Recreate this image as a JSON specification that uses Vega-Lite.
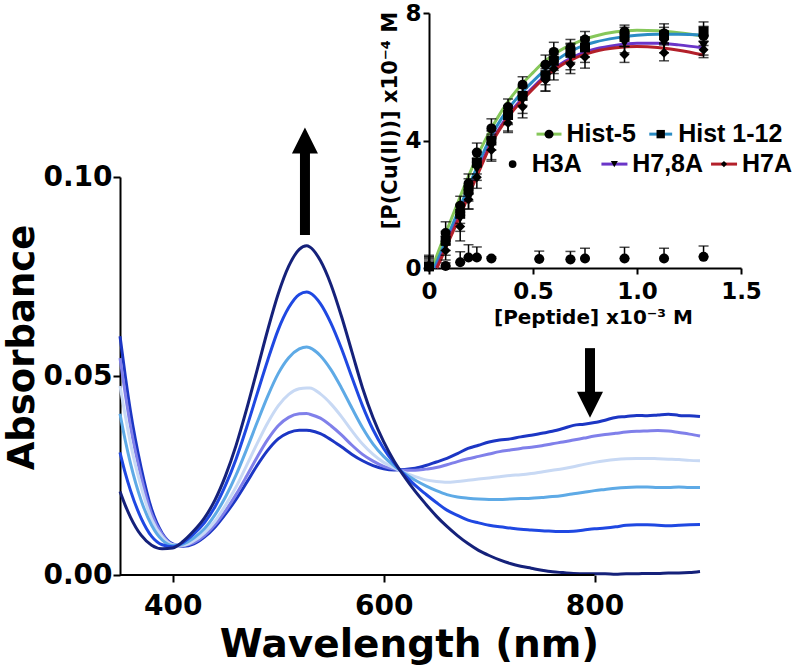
{
  "$schema": "https://vega.github.io/schema/vega-lite/v6.json",
  "width": 800,
  "height": 669,
  "autosize": {"type": "none"},
  "padding": 0,
  "background": "white",
  "config": {
    "view": {"stroke": null},
    "axis": {"grid": false, "labelFlush": false, "labelOverlap": false, "domainColor": "black", "tickColor": "black", "labelColor": "black", "titleColor": "black", "labelFont": "DejaVu Sans", "titleFont": "DejaVu Sans", "labelFontWeight": "bold", "titleFontWeight": "bold"}
  },
  "datasets": {
    "spectra": [
      {"s":"S1","w":350,"A":0.0600},{"s":"S1","w":355,"A":0.0500},{"s":"S1","w":360,"A":0.0410},{"s":"S1","w":370,"A":0.0270},{"s":"S1","w":380,"A":0.0165},{"s":"S1","w":390,"A":0.0105},{"s":"S1","w":400,"A":0.0078},{"s":"S1","w":410,"A":0.0072},{"s":"S1","w":420,"A":0.0078},{"s":"S1","w":430,"A":0.0095},{"s":"S1","w":440,"A":0.0120},{"s":"S1","w":450,"A":0.0153},{"s":"S1","w":460,"A":0.0190},{"s":"S1","w":470,"A":0.0232},{"s":"S1","w":480,"A":0.0275},{"s":"S1","w":490,"A":0.0313},{"s":"S1","w":500,"A":0.0342},{"s":"S1","w":510,"A":0.0358},{"s":"S1","w":520,"A":0.0364},{"s":"S1","w":527,"A":0.0364},{"s":"S1","w":530,"A":0.0363},{"s":"S1","w":540,"A":0.0355},{"s":"S1","w":550,"A":0.0340},{"s":"S1","w":560,"A":0.0322},{"s":"S1","w":570,"A":0.0303},{"s":"S1","w":580,"A":0.0287},{"s":"S1","w":590,"A":0.0275},{"s":"S1","w":600,"A":0.0267},{"s":"S1","w":610,"A":0.0264},{"s":"S1","w":620,"A":0.0265},{"s":"S1","w":630,"A":0.0268},{"s":"S1","w":640,"A":0.0275},{"s":"S1","w":650,"A":0.0284},{"s":"S1","w":660,"A":0.0293},{"s":"S1","w":670,"A":0.0305},{"s":"S1","w":680,"A":0.0318},{"s":"S1","w":690,"A":0.0326},{"s":"S1","w":700,"A":0.0334},{"s":"S1","w":710,"A":0.0339},{"s":"S1","w":720,"A":0.0342},{"s":"S1","w":730,"A":0.0347},{"s":"S1","w":740,"A":0.0351},{"s":"S1","w":750,"A":0.0356},{"s":"S1","w":760,"A":0.0361},{"s":"S1","w":770,"A":0.0368},{"s":"S1","w":780,"A":0.0376},{"s":"S1","w":790,"A":0.0379},{"s":"S1","w":800,"A":0.0383},{"s":"S1","w":810,"A":0.0389},{"s":"S1","w":820,"A":0.0396},{"s":"S1","w":830,"A":0.0398},{"s":"S1","w":840,"A":0.0401},{"s":"S1","w":850,"A":0.0400},{"s":"S1","w":860,"A":0.0402},{"s":"S1","w":870,"A":0.0404},{"s":"S1","w":880,"A":0.0401},{"s":"S1","w":890,"A":0.0400},{"s":"S1","w":900,"A":0.0398},
      {"s":"S2","w":350,"A":0.0545},{"s":"S2","w":355,"A":0.0455},{"s":"S2","w":360,"A":0.0373},{"s":"S2","w":370,"A":0.0248},{"s":"S2","w":380,"A":0.0153},{"s":"S2","w":390,"A":0.0102},{"s":"S2","w":400,"A":0.0077},{"s":"S2","w":410,"A":0.0074},{"s":"S2","w":420,"A":0.0081},{"s":"S2","w":430,"A":0.0099},{"s":"S2","w":440,"A":0.0126},{"s":"S2","w":450,"A":0.0161},{"s":"S2","w":460,"A":0.0202},{"s":"S2","w":470,"A":0.0248},{"s":"S2","w":480,"A":0.0296},{"s":"S2","w":490,"A":0.0340},{"s":"S2","w":500,"A":0.0375},{"s":"S2","w":510,"A":0.0396},{"s":"S2","w":520,"A":0.0405},{"s":"S2","w":527,"A":0.0406},{"s":"S2","w":530,"A":0.0404},{"s":"S2","w":540,"A":0.0394},{"s":"S2","w":550,"A":0.0375},{"s":"S2","w":560,"A":0.0352},{"s":"S2","w":570,"A":0.0326},{"s":"S2","w":580,"A":0.0303},{"s":"S2","w":590,"A":0.0286},{"s":"S2","w":600,"A":0.0273},{"s":"S2","w":610,"A":0.0266},{"s":"S2","w":620,"A":0.0263},{"s":"S2","w":630,"A":0.0263},{"s":"S2","w":640,"A":0.0266},{"s":"S2","w":650,"A":0.0270},{"s":"S2","w":660,"A":0.0277},{"s":"S2","w":670,"A":0.0285},{"s":"S2","w":680,"A":0.0292},{"s":"S2","w":690,"A":0.0298},{"s":"S2","w":700,"A":0.0304},{"s":"S2","w":710,"A":0.0310},{"s":"S2","w":720,"A":0.0314},{"s":"S2","w":730,"A":0.0318},{"s":"S2","w":740,"A":0.0321},{"s":"S2","w":750,"A":0.0325},{"s":"S2","w":760,"A":0.0330},{"s":"S2","w":770,"A":0.0334},{"s":"S2","w":780,"A":0.0339},{"s":"S2","w":790,"A":0.0344},{"s":"S2","w":800,"A":0.0349},{"s":"S2","w":810,"A":0.0353},{"s":"S2","w":820,"A":0.0356},{"s":"S2","w":830,"A":0.0359},{"s":"S2","w":840,"A":0.0361},{"s":"S2","w":850,"A":0.0362},{"s":"S2","w":860,"A":0.0363},{"s":"S2","w":870,"A":0.0362},{"s":"S2","w":880,"A":0.0358},{"s":"S2","w":890,"A":0.0354},{"s":"S2","w":900,"A":0.0349},
      {"s":"S3","w":350,"A":0.0475},{"s":"S3","w":355,"A":0.0400},{"s":"S3","w":360,"A":0.0330},{"s":"S3","w":370,"A":0.0222},{"s":"S3","w":380,"A":0.0140},{"s":"S3","w":390,"A":0.0096},{"s":"S3","w":400,"A":0.0076},{"s":"S3","w":410,"A":0.0075},{"s":"S3","w":420,"A":0.0086},{"s":"S3","w":430,"A":0.0106},{"s":"S3","w":440,"A":0.0135},{"s":"S3","w":450,"A":0.0175},{"s":"S3","w":460,"A":0.0221},{"s":"S3","w":470,"A":0.0275},{"s":"S3","w":480,"A":0.0330},{"s":"S3","w":490,"A":0.0382},{"s":"S3","w":500,"A":0.0425},{"s":"S3","w":510,"A":0.0454},{"s":"S3","w":520,"A":0.0468},{"s":"S3","w":527,"A":0.0470},{"s":"S3","w":530,"A":0.0470},{"s":"S3","w":540,"A":0.0455},{"s":"S3","w":550,"A":0.0430},{"s":"S3","w":560,"A":0.0398},{"s":"S3","w":570,"A":0.0362},{"s":"S3","w":580,"A":0.0329},{"s":"S3","w":590,"A":0.0303},{"s":"S3","w":600,"A":0.0283},{"s":"S3","w":610,"A":0.0269},{"s":"S3","w":620,"A":0.0257},{"s":"S3","w":630,"A":0.0247},{"s":"S3","w":640,"A":0.0239},{"s":"S3","w":650,"A":0.0235},{"s":"S3","w":660,"A":0.0233},{"s":"S3","w":670,"A":0.0235},{"s":"S3","w":680,"A":0.0238},{"s":"S3","w":690,"A":0.0241},{"s":"S3","w":700,"A":0.0244},{"s":"S3","w":710,"A":0.0247},{"s":"S3","w":720,"A":0.0250},{"s":"S3","w":730,"A":0.0252},{"s":"S3","w":740,"A":0.0255},{"s":"S3","w":750,"A":0.0259},{"s":"S3","w":760,"A":0.0263},{"s":"S3","w":770,"A":0.0267},{"s":"S3","w":780,"A":0.0272},{"s":"S3","w":790,"A":0.0278},{"s":"S3","w":800,"A":0.0283},{"s":"S3","w":810,"A":0.0287},{"s":"S3","w":820,"A":0.0290},{"s":"S3","w":830,"A":0.0292},{"s":"S3","w":840,"A":0.0293},{"s":"S3","w":850,"A":0.0293},{"s":"S3","w":860,"A":0.0292},{"s":"S3","w":870,"A":0.0291},{"s":"S3","w":880,"A":0.0290},{"s":"S3","w":890,"A":0.0288},{"s":"S3","w":900,"A":0.0287},
      {"s":"S4","w":350,"A":0.0405},{"s":"S4","w":355,"A":0.0338},{"s":"S4","w":360,"A":0.0280},{"s":"S4","w":370,"A":0.0188},{"s":"S4","w":380,"A":0.0125},{"s":"S4","w":390,"A":0.0088},{"s":"S4","w":400,"A":0.0074},{"s":"S4","w":410,"A":0.0078},{"s":"S4","w":420,"A":0.0093},{"s":"S4","w":430,"A":0.0116},{"s":"S4","w":440,"A":0.0151},{"s":"S4","w":450,"A":0.0196},{"s":"S4","w":460,"A":0.0251},{"s":"S4","w":470,"A":0.0315},{"s":"S4","w":480,"A":0.0383},{"s":"S4","w":490,"A":0.0449},{"s":"S4","w":500,"A":0.0506},{"s":"S4","w":510,"A":0.0546},{"s":"S4","w":520,"A":0.0568},{"s":"S4","w":527,"A":0.0573},{"s":"S4","w":530,"A":0.0571},{"s":"S4","w":540,"A":0.0551},{"s":"S4","w":550,"A":0.0516},{"s":"S4","w":560,"A":0.0470},{"s":"S4","w":570,"A":0.0419},{"s":"S4","w":580,"A":0.0370},{"s":"S4","w":590,"A":0.0329},{"s":"S4","w":600,"A":0.0298},{"s":"S4","w":610,"A":0.0274},{"s":"S4","w":620,"A":0.0255},{"s":"S4","w":630,"A":0.0238},{"s":"S4","w":640,"A":0.0224},{"s":"S4","w":650,"A":0.0212},{"s":"S4","w":660,"A":0.0202},{"s":"S4","w":670,"A":0.0196},{"s":"S4","w":680,"A":0.0193},{"s":"S4","w":690,"A":0.0191},{"s":"S4","w":700,"A":0.0190},{"s":"S4","w":710,"A":0.0190},{"s":"S4","w":720,"A":0.0191},{"s":"S4","w":730,"A":0.0192},{"s":"S4","w":740,"A":0.0193},{"s":"S4","w":750,"A":0.0195},{"s":"S4","w":760,"A":0.0197},{"s":"S4","w":770,"A":0.0200},{"s":"S4","w":780,"A":0.0204},{"s":"S4","w":790,"A":0.0208},{"s":"S4","w":800,"A":0.0212},{"s":"S4","w":810,"A":0.0215},{"s":"S4","w":820,"A":0.0218},{"s":"S4","w":830,"A":0.0220},{"s":"S4","w":840,"A":0.0221},{"s":"S4","w":850,"A":0.0221},{"s":"S4","w":860,"A":0.0220},{"s":"S4","w":870,"A":0.0220},{"s":"S4","w":880,"A":0.0221},{"s":"S4","w":890,"A":0.0220},{"s":"S4","w":900,"A":0.0220},
      {"s":"S5","w":350,"A":0.0308},{"s":"S5","w":355,"A":0.0256},{"s":"S5","w":360,"A":0.0212},{"s":"S5","w":370,"A":0.0143},{"s":"S5","w":380,"A":0.0097},{"s":"S5","w":390,"A":0.0076},{"s":"S5","w":400,"A":0.0071},{"s":"S5","w":410,"A":0.0082},{"s":"S5","w":420,"A":0.0103},{"s":"S5","w":430,"A":0.0131},{"s":"S5","w":440,"A":0.0171},{"s":"S5","w":450,"A":0.0225},{"s":"S5","w":460,"A":0.0291},{"s":"S5","w":470,"A":0.0370},{"s":"S5","w":480,"A":0.0455},{"s":"S5","w":490,"A":0.0539},{"s":"S5","w":500,"A":0.0616},{"s":"S5","w":510,"A":0.0672},{"s":"S5","w":520,"A":0.0705},{"s":"S5","w":527,"A":0.0711},{"s":"S5","w":530,"A":0.0709},{"s":"S5","w":540,"A":0.0682},{"s":"S5","w":550,"A":0.0633},{"s":"S5","w":560,"A":0.0569},{"s":"S5","w":570,"A":0.0496},{"s":"S5","w":580,"A":0.0425},{"s":"S5","w":590,"A":0.0365},{"s":"S5","w":600,"A":0.0318},{"s":"S5","w":610,"A":0.0281},{"s":"S5","w":620,"A":0.0251},{"s":"S5","w":630,"A":0.0225},{"s":"S5","w":640,"A":0.0203},{"s":"S5","w":650,"A":0.0182},{"s":"S5","w":660,"A":0.0163},{"s":"S5","w":670,"A":0.0150},{"s":"S5","w":680,"A":0.0138},{"s":"S5","w":690,"A":0.0131},{"s":"S5","w":700,"A":0.0125},{"s":"S5","w":710,"A":0.0121},{"s":"S5","w":720,"A":0.0118},{"s":"S5","w":730,"A":0.0115},{"s":"S5","w":740,"A":0.0113},{"s":"S5","w":750,"A":0.0111},{"s":"S5","w":760,"A":0.0110},{"s":"S5","w":770,"A":0.0109},{"s":"S5","w":780,"A":0.0110},{"s":"S5","w":790,"A":0.0113},{"s":"S5","w":800,"A":0.0116},{"s":"S5","w":810,"A":0.0118},{"s":"S5","w":820,"A":0.0121},{"s":"S5","w":830,"A":0.0125},{"s":"S5","w":840,"A":0.0126},{"s":"S5","w":850,"A":0.0126},{"s":"S5","w":860,"A":0.0125},{"s":"S5","w":870,"A":0.0124},{"s":"S5","w":880,"A":0.0125},{"s":"S5","w":890,"A":0.0126},{"s":"S5","w":900,"A":0.0127},
      {"s":"S6","w":350,"A":0.0210},{"s":"S6","w":355,"A":0.0175},{"s":"S6","w":360,"A":0.0145},{"s":"S6","w":370,"A":0.0100},{"s":"S6","w":380,"A":0.0075},{"s":"S6","w":390,"A":0.0066},{"s":"S6","w":400,"A":0.0068},{"s":"S6","w":410,"A":0.0085},{"s":"S6","w":420,"A":0.0111},{"s":"S6","w":430,"A":0.0143},{"s":"S6","w":440,"A":0.0188},{"s":"S6","w":450,"A":0.0249},{"s":"S6","w":460,"A":0.0325},{"s":"S6","w":470,"A":0.0416},{"s":"S6","w":480,"A":0.0515},{"s":"S6","w":490,"A":0.0615},{"s":"S6","w":500,"A":0.0706},{"s":"S6","w":510,"A":0.0776},{"s":"S6","w":520,"A":0.0818},{"s":"S6","w":527,"A":0.0827},{"s":"S6","w":530,"A":0.0824},{"s":"S6","w":540,"A":0.0790},{"s":"S6","w":550,"A":0.0730},{"s":"S6","w":560,"A":0.0650},{"s":"S6","w":570,"A":0.0560},{"s":"S6","w":580,"A":0.0470},{"s":"S6","w":590,"A":0.0395},{"s":"S6","w":600,"A":0.0335},{"s":"S6","w":610,"A":0.0286},{"s":"S6","w":620,"A":0.0246},{"s":"S6","w":630,"A":0.0210},{"s":"S6","w":640,"A":0.0178},{"s":"S6","w":650,"A":0.0148},{"s":"S6","w":660,"A":0.0122},{"s":"S6","w":670,"A":0.0099},{"s":"S6","w":680,"A":0.0079},{"s":"S6","w":690,"A":0.0062},{"s":"S6","w":700,"A":0.0049},{"s":"S6","w":710,"A":0.0038},{"s":"S6","w":720,"A":0.0029},{"s":"S6","w":730,"A":0.0022},{"s":"S6","w":740,"A":0.0017},{"s":"S6","w":750,"A":0.0012},{"s":"S6","w":760,"A":0.0008},{"s":"S6","w":770,"A":0.0006},{"s":"S6","w":780,"A":0.0004},{"s":"S6","w":790,"A":0.0003},{"s":"S6","w":800,"A":0.0003},{"s":"S6","w":810,"A":0.0003},{"s":"S6","w":820,"A":0.0002},{"s":"S6","w":830,"A":0.0003},{"s":"S6","w":840,"A":0.0003},{"s":"S6","w":850,"A":0.0004},{"s":"S6","w":860,"A":0.0004},{"s":"S6","w":870,"A":0.0005},{"s":"S6","w":880,"A":0.0005},{"s":"S6","w":890,"A":0.0006},{"s":"S6","w":900,"A":0.0009}
    ],
    "fits": [
      {"g":"Hist-5","x":0.015,"y":0},{"g":"Hist-5","x":0.05,"y":0.6},{"g":"Hist-5","x":0.1,"y":1.42},{"g":"Hist-5","x":0.15,"y":2.24},{"g":"Hist-5","x":0.2,"y":3.03},{"g":"Hist-5","x":0.25,"y":3.75},{"g":"Hist-5","x":0.3,"y":4.38},{"g":"Hist-5","x":0.35,"y":4.93},{"g":"Hist-5","x":0.4,"y":5.4},{"g":"Hist-5","x":0.45,"y":5.79},{"g":"Hist-5","x":0.5,"y":6.13},{"g":"Hist-5","x":0.55,"y":6.45},{"g":"Hist-5","x":0.6,"y":6.7},{"g":"Hist-5","x":0.65,"y":6.9},{"g":"Hist-5","x":0.7,"y":7.05},{"g":"Hist-5","x":0.75,"y":7.18},{"g":"Hist-5","x":0.8,"y":7.28},{"g":"Hist-5","x":0.9,"y":7.41},{"g":"Hist-5","x":1.0,"y":7.46},{"g":"Hist-5","x":1.1,"y":7.44},{"g":"Hist-5","x":1.2,"y":7.38},{"g":"Hist-5","x":1.32,"y":7.28},
      {"g":"Hist 1-12","x":0.025,"y":0},{"g":"Hist 1-12","x":0.05,"y":0.38},{"g":"Hist 1-12","x":0.1,"y":1.15},{"g":"Hist 1-12","x":0.15,"y":1.93},{"g":"Hist 1-12","x":0.2,"y":2.7},{"g":"Hist 1-12","x":0.25,"y":3.45},{"g":"Hist 1-12","x":0.3,"y":4.15},{"g":"Hist 1-12","x":0.35,"y":4.7},{"g":"Hist 1-12","x":0.4,"y":5.15},{"g":"Hist 1-12","x":0.45,"y":5.53},{"g":"Hist 1-12","x":0.5,"y":5.86},{"g":"Hist 1-12","x":0.55,"y":6.17},{"g":"Hist 1-12","x":0.6,"y":6.45},{"g":"Hist 1-12","x":0.65,"y":6.68},{"g":"Hist 1-12","x":0.7,"y":6.86},{"g":"Hist 1-12","x":0.75,"y":6.99},{"g":"Hist 1-12","x":0.8,"y":7.09},{"g":"Hist 1-12","x":0.9,"y":7.22},{"g":"Hist 1-12","x":1.0,"y":7.3},{"g":"Hist 1-12","x":1.1,"y":7.33},{"g":"Hist 1-12","x":1.2,"y":7.33},{"g":"Hist 1-12","x":1.32,"y":7.3},
      {"g":"H7,8A","x":0.035,"y":0},{"g":"H7,8A","x":0.05,"y":0.22},{"g":"H7,8A","x":0.1,"y":0.97},{"g":"H7,8A","x":0.15,"y":1.72},{"g":"H7,8A","x":0.2,"y":2.5},{"g":"H7,8A","x":0.25,"y":3.25},{"g":"H7,8A","x":0.3,"y":3.95},{"g":"H7,8A","x":0.35,"y":4.5},{"g":"H7,8A","x":0.4,"y":4.95},{"g":"H7,8A","x":0.45,"y":5.33},{"g":"H7,8A","x":0.5,"y":5.67},{"g":"H7,8A","x":0.55,"y":5.98},{"g":"H7,8A","x":0.6,"y":6.25},{"g":"H7,8A","x":0.65,"y":6.47},{"g":"H7,8A","x":0.7,"y":6.64},{"g":"H7,8A","x":0.75,"y":6.77},{"g":"H7,8A","x":0.8,"y":6.87},{"g":"H7,8A","x":0.9,"y":6.99},{"g":"H7,8A","x":1.0,"y":7.05},{"g":"H7,8A","x":1.1,"y":7.05},{"g":"H7,8A","x":1.2,"y":7.0},{"g":"H7,8A","x":1.32,"y":6.9},
      {"g":"H7A","x":0.038,"y":0},{"g":"H7A","x":0.05,"y":0.17},{"g":"H7A","x":0.1,"y":0.92},{"g":"H7A","x":0.15,"y":1.65},{"g":"H7A","x":0.2,"y":2.43},{"g":"H7A","x":0.25,"y":3.18},{"g":"H7A","x":0.3,"y":3.9},{"g":"H7A","x":0.35,"y":4.45},{"g":"H7A","x":0.4,"y":4.9},{"g":"H7A","x":0.45,"y":5.28},{"g":"H7A","x":0.5,"y":5.62},{"g":"H7A","x":0.55,"y":5.93},{"g":"H7A","x":0.6,"y":6.2},{"g":"H7A","x":0.65,"y":6.42},{"g":"H7A","x":0.7,"y":6.58},{"g":"H7A","x":0.75,"y":6.7},{"g":"H7A","x":0.8,"y":6.8},{"g":"H7A","x":0.9,"y":6.91},{"g":"H7A","x":1.0,"y":6.95},{"g":"H7A","x":1.1,"y":6.92},{"g":"H7A","x":1.2,"y":6.83},{"g":"H7A","x":1.32,"y":6.68}
    ],
    "pts": [
      {"g":"Hist-5","x":0,"y":0.05,"lo":0,"hi":0.3},{"g":"Hist-5","x":0.08,"y":1.1,"lo":0.75,"hi":1.45},{"g":"Hist-5","x":0.15,"y":1.95,"lo":1.65,"hi":2.25},{"g":"Hist-5","x":0.19,"y":2.65,"lo":2.35,"hi":2.95},{"g":"Hist-5","x":0.23,"y":3.62,"lo":3.32,"hi":3.92},{"g":"Hist-5","x":0.3,"y":4.38,"lo":4.08,"hi":4.68},{"g":"Hist-5","x":0.38,"y":5.05,"lo":4.8,"hi":5.3},{"g":"Hist-5","x":0.45,"y":5.75,"lo":5.5,"hi":6.0},{"g":"Hist-5","x":0.56,"y":6.38,"lo":6.08,"hi":6.68},{"g":"Hist-5","x":0.6,"y":6.78,"lo":6.48,"hi":7.08},{"g":"Hist-5","x":0.68,"y":6.92,"lo":6.67,"hi":7.17},{"g":"Hist-5","x":0.75,"y":7.17,"lo":6.92,"hi":7.42},{"g":"Hist-5","x":0.94,"y":7.42,"lo":7.22,"hi":7.62},{"g":"Hist-5","x":1.13,"y":7.36,"lo":7.06,"hi":7.66},{"g":"Hist-5","x":1.32,"y":7.28,"lo":6.98,"hi":7.58},
      {"g":"Hist 1-12","x":0,"y":0.05,"lo":0,"hi":0.35},{"g":"Hist 1-12","x":0.08,"y":0.85,"lo":0.55,"hi":1.15},{"g":"Hist 1-12","x":0.15,"y":1.7,"lo":1.4,"hi":2.0},{"g":"Hist 1-12","x":0.19,"y":2.45,"lo":2.1,"hi":2.8},{"g":"Hist 1-12","x":0.23,"y":3.3,"lo":2.95,"hi":3.65},{"g":"Hist 1-12","x":0.3,"y":4.0,"lo":3.7,"hi":4.3},{"g":"Hist 1-12","x":0.38,"y":4.8,"lo":4.5,"hi":5.1},{"g":"Hist 1-12","x":0.45,"y":5.4,"lo":5.1,"hi":5.7},{"g":"Hist 1-12","x":0.56,"y":6.05,"lo":5.75,"hi":6.35},{"g":"Hist 1-12","x":0.6,"y":6.5,"lo":6.2,"hi":6.8},{"g":"Hist 1-12","x":0.68,"y":6.75,"lo":6.45,"hi":7.05},{"g":"Hist 1-12","x":0.75,"y":6.92,"lo":6.62,"hi":7.22},{"g":"Hist 1-12","x":0.94,"y":7.25,"lo":6.95,"hi":7.55},{"g":"Hist 1-12","x":1.13,"y":7.3,"lo":7.05,"hi":7.55},{"g":"Hist 1-12","x":1.32,"y":7.42,"lo":7.12,"hi":7.72},
      {"g":"H7,8A","x":0,"y":0.05,"lo":0,"hi":0.4},{"g":"H7,8A","x":0.08,"y":0.7,"lo":0.4,"hi":1.0},{"g":"H7,8A","x":0.15,"y":1.55,"lo":1.15,"hi":1.95},{"g":"H7,8A","x":0.19,"y":2.2,"lo":1.85,"hi":2.55},{"g":"H7,8A","x":0.23,"y":3.1,"lo":2.75,"hi":3.45},{"g":"H7,8A","x":0.3,"y":3.8,"lo":3.4,"hi":4.2},{"g":"H7,8A","x":0.38,"y":4.65,"lo":4.3,"hi":5.0},{"g":"H7,8A","x":0.45,"y":5.25,"lo":4.85,"hi":5.65},{"g":"H7,8A","x":0.56,"y":5.95,"lo":5.55,"hi":6.35},{"g":"H7,8A","x":0.6,"y":6.4,"lo":6.1,"hi":6.7},{"g":"H7,8A","x":0.68,"y":6.62,"lo":6.22,"hi":7.02},{"g":"H7,8A","x":0.75,"y":6.85,"lo":6.45,"hi":7.25},{"g":"H7,8A","x":0.94,"y":7.05,"lo":6.75,"hi":7.35},{"g":"H7,8A","x":1.13,"y":7.05,"lo":6.75,"hi":7.35},{"g":"H7,8A","x":1.32,"y":6.98,"lo":6.68,"hi":7.28},
      {"g":"H7A","x":0,"y":0.05,"lo":0,"hi":0.35},{"g":"H7A","x":0.08,"y":0.55,"lo":0.25,"hi":0.85},{"g":"H7A","x":0.15,"y":1.3,"lo":0.85,"hi":1.75},{"g":"H7A","x":0.19,"y":2.15,"lo":1.85,"hi":2.45},{"g":"H7A","x":0.23,"y":2.85,"lo":2.5,"hi":3.2},{"g":"H7A","x":0.3,"y":3.7,"lo":3.35,"hi":4.05},{"g":"H7A","x":0.38,"y":4.55,"lo":4.25,"hi":4.85},{"g":"H7A","x":0.45,"y":5.06,"lo":4.71,"hi":5.41},{"g":"H7A","x":0.56,"y":5.9,"lo":5.55,"hi":6.25},{"g":"H7A","x":0.6,"y":6.25,"lo":5.9,"hi":6.6},{"g":"H7A","x":0.68,"y":6.4,"lo":6.1,"hi":6.7},{"g":"H7A","x":0.75,"y":6.62,"lo":6.27,"hi":6.97},{"g":"H7A","x":0.94,"y":6.7,"lo":6.45,"hi":6.95},{"g":"H7A","x":1.13,"y":6.75,"lo":6.5,"hi":7.0},{"g":"H7A","x":1.32,"y":6.85,"lo":6.6,"hi":7.1},
      {"g":"H3A","x":0,"y":0.05,"lo":0.05,"hi":0.25},{"g":"H3A","x":0.08,"y":0.06,"lo":0.06,"hi":0.16},{"g":"H3A","x":0.15,"y":0.18,"lo":0.18,"hi":0.51},{"g":"H3A","x":0.19,"y":0.33,"lo":0.33,"hi":0.73},{"g":"H3A","x":0.23,"y":0.33,"lo":0.33,"hi":0.66},{"g":"H3A","x":0.3,"y":0.3,"lo":0.3,"hi":0.35},{"g":"H3A","x":0.53,"y":0.28,"lo":0.28,"hi":0.53},{"g":"H3A","x":0.68,"y":0.27,"lo":0.27,"hi":0.52},{"g":"H3A","x":0.75,"y":0.3,"lo":0.3,"hi":0.62},{"g":"H3A","x":0.94,"y":0.3,"lo":0.3,"hi":0.65},{"g":"H3A","x":1.13,"y":0.3,"lo":0.3,"hi":0.62},{"g":"H3A","x":1.32,"y":0.35,"lo":0.35,"hi":0.69}
    ]
  },
  "layer": [
    {
      "data": {"name": "spectra"},
      "mark": {"type": "line", "strokeWidth": 3, "interpolate": "monotone"},
      "encoding": {
        "x": {"field": "w", "type": "quantitative", "scale": {"domain": [350, 900], "range": [120, 700], "nice": false, "zero": false},
          "axis": {"orient": "bottom", "offset": -94, "values": [400, 600, 800], "domain": false, "tickSize": 7, "tickWidth": 2, "labelFontSize": 28, "labelPadding": 10, "title": "Wavelength (nm)", "titleFontSize": 39, "titleX": 409, "titleY": 81, "titleBaseline": "alphabetic"}},
        "y": {"field": "A", "type": "quantitative", "scale": {"domain": [0, 0.1], "range": [575, 177], "nice": false, "zero": false},
          "axis": {"orient": "left", "offset": -120, "values": [0, 0.05, 0.1], "format": ".2f", "domainWidth": 2, "tickSize": 7, "tickWidth": 2, "labelFontSize": 28, "labelPadding": 1, "title": "Absorbance", "titleFontSize": 37, "titleX": -87, "titleY": 347, "titleBaseline": "alphabetic"}},
        "color": {"field": "s", "type": "nominal", "scale": {"domain": ["S1", "S2", "S3", "S4", "S5", "S6"], "range": ["#1c36c4", "#8080ea", "#c8d9f4", "#5eaae6", "#1f48e2", "#15217a"]}, "legend": null}
      }
    },
    {
      "data": {"values": [{}]},
      "mark": {"type": "rule", "strokeWidth": 2, "color": "black"},
      "encoding": {
        "x": {"datum": 350, "type": "quantitative", "scale": {"domain": [350, 900], "range": [120, 700], "nice": false, "zero": false}, "axis": null},
        "x2": {"datum": 800},
        "y": {"datum": 0, "type": "quantitative", "scale": {"domain": [0, 0.1], "range": [575, 177], "nice": false, "zero": false}, "axis": null}
      }
    },
    {
      "data": {"values": [{}]},
      "mark": {"type": "rule", "strokeWidth": 10, "color": "black"},
      "encoding": {
        "x": {"datum": 525.4, "type": "quantitative", "scale": {"domain": [350, 900], "range": [120, 700], "nice": false, "zero": false}, "axis": null},
        "y": {"datum": 0.0854, "type": "quantitative", "scale": {"domain": [0, 0.1], "range": [575, 177], "nice": false, "zero": false}, "axis": null},
        "y2": {"datum": 0.1066}
      }
    },
    {
      "data": {"values": [{}]},
      "mark": {"type": "point", "shape": "M0,-1L1,1L-1,1Z", "filled": true, "color": "black", "opacity": 1, "size": 676},
      "encoding": {
        "x": {"datum": 525.4, "type": "quantitative", "scale": {"domain": [350, 900], "range": [120, 700], "nice": false, "zero": false}, "axis": null},
        "y": {"datum": 0.1092, "type": "quantitative", "scale": {"domain": [0, 0.1], "range": [575, 177], "nice": false, "zero": false}, "axis": null}
      }
    },
    {
      "data": {"values": [{}]},
      "mark": {"type": "rule", "strokeWidth": 10, "color": "black"},
      "encoding": {
        "x": {"datum": 795.7, "type": "quantitative", "scale": {"domain": [350, 900], "range": [120, 700], "nice": false, "zero": false}, "axis": null},
        "y": {"datum": 0.0570, "type": "quantitative", "scale": {"domain": [0, 0.1], "range": [575, 177], "nice": false, "zero": false}, "axis": null},
        "y2": {"datum": 0.0457}
      }
    },
    {
      "data": {"values": [{}]},
      "mark": {"type": "point", "shape": "M0,1L1,-1L-1,-1Z", "filled": true, "color": "black", "opacity": 1, "size": 676},
      "encoding": {
        "x": {"datum": 795.7, "type": "quantitative", "scale": {"domain": [350, 900], "range": [120, 700], "nice": false, "zero": false}, "axis": null},
        "y": {"datum": 0.0428, "type": "quantitative", "scale": {"domain": [0, 0.1], "range": [575, 177], "nice": false, "zero": false}, "axis": null}
      }
    },
    {
      "data": {"name": "fits"},
      "mark": {"type": "line", "strokeWidth": 3, "interpolate": "monotone"},
      "encoding": {
        "x": {"field": "x", "type": "quantitative", "scale": {"domain": [0, 1.5], "range": [429, 741], "nice": false, "zero": false},
          "axis": {"orient": "bottom", "offset": -401, "values": [0, 0.5, 1, 1.5], "labelExpr": "datum.value == 0 ? '0' : format(datum.value, '.1f')", "domainWidth": 2, "tickSize": 6, "tickWidth": 2, "labelFontSize": 23, "labelPadding": 6, "title": "[Peptide] x10⁻³ M", "titleFontSize": 20, "titleX": 593, "titleY": 55, "titleBaseline": "alphabetic"}},
        "y": {"field": "y", "type": "quantitative", "scale": {"domain": [0, 8], "range": [268, 13], "nice": false, "zero": false},
          "axis": {"orient": "left", "offset": -429, "values": [0, 4, 8], "domainWidth": 2, "tickSize": 6, "tickWidth": 2, "labelFontSize": 23, "labelPadding": 2, "title": "[P(Cu(II))] x10⁻⁴ M", "titleFontSize": 21, "titleX": -33, "titleY": 120, "titleBaseline": "alphabetic"}},
        "color": {"field": "g", "type": "nominal", "scale": {"domain": ["Hist-5", "Hist 1-12", "H7,8A", "H7A"], "range": ["#86c75a", "#2b8cc4", "#6a35c8", "#b3202a"]}, "legend": null}
      }
    },
    {
      "data": {"name": "pts"},
      "mark": {"type": "errorbar", "color": "black", "thickness": 1.5, "size": 10, "ticks": true},
      "encoding": {
        "x": {"field": "x", "type": "quantitative", "scale": {"domain": [0, 1.5], "range": [429, 741], "nice": false, "zero": false}, "axis": null},
        "y": {"field": "lo", "type": "quantitative", "scale": {"domain": [0, 8], "range": [268, 13], "nice": false, "zero": false}, "axis": null},
        "y2": {"field": "hi"}
      }
    },
    {
      "data": {"name": "pts"},
      "mark": {"type": "point", "filled": true, "color": "black", "opacity": 1, "size": 100},
      "encoding": {
        "x": {"field": "x", "type": "quantitative", "scale": {"domain": [0, 1.5], "range": [429, 741], "nice": false, "zero": false}, "axis": null},
        "y": {"field": "y", "type": "quantitative", "scale": {"domain": [0, 8], "range": [268, 13], "nice": false, "zero": false}, "axis": null},
        "shape": {"field": "g", "type": "nominal", "scale": {"domain": ["Hist-5", "Hist 1-12", "H3A", "H7,8A", "H7A"], "range": ["circle", "square", "circle", "triangle-down", "diamond"]}, "legend": null}
      }
    },
    {"data": {"values": [{}]}, "mark": {"type": "rule", "strokeWidth": 3, "color": "#86c75a"},
      "encoding": {"x": {"datum": 0.517, "type": "quantitative", "scale": {"domain": [0, 1.5], "range": [429, 741], "nice": false, "zero": false}, "axis": null}, "x2": {"datum": 0.637}, "y": {"datum": 4.2, "type": "quantitative", "scale": {"domain": [0, 8], "range": [268, 13], "nice": false, "zero": false}, "axis": null}}},
    {"data": {"values": [{}]}, "mark": {"type": "rule", "strokeWidth": 3, "color": "#2b8cc4"},
      "encoding": {"x": {"datum": 1.059, "type": "quantitative", "scale": {"domain": [0, 1.5], "range": [429, 741], "nice": false, "zero": false}, "axis": null}, "x2": {"datum": 1.169}, "y": {"datum": 4.2, "type": "quantitative", "scale": {"domain": [0, 8], "range": [268, 13], "nice": false, "zero": false}, "axis": null}}},
    {"data": {"values": [{}]}, "mark": {"type": "rule", "strokeWidth": 3, "color": "#6a35c8"},
      "encoding": {"x": {"datum": 0.829, "type": "quantitative", "scale": {"domain": [0, 1.5], "range": [429, 741], "nice": false, "zero": false}, "axis": null}, "x2": {"datum": 0.954}, "y": {"datum": 3.26, "type": "quantitative", "scale": {"domain": [0, 8], "range": [268, 13], "nice": false, "zero": false}, "axis": null}}},
    {"data": {"values": [{}]}, "mark": {"type": "rule", "strokeWidth": 3, "color": "#b3202a"},
      "encoding": {"x": {"datum": 1.356, "type": "quantitative", "scale": {"domain": [0, 1.5], "range": [429, 741], "nice": false, "zero": false}, "axis": null}, "x2": {"datum": 1.481}, "y": {"datum": 3.26, "type": "quantitative", "scale": {"domain": [0, 8], "range": [268, 13], "nice": false, "zero": false}, "axis": null}}},
    {"data": {"values": [{}]}, "mark": {"type": "point", "shape": "circle", "filled": true, "color": "black", "opacity": 1, "size": 80},
      "encoding": {"x": {"datum": 0.577, "type": "quantitative", "scale": {"domain": [0, 1.5], "range": [429, 741], "nice": false, "zero": false}, "axis": null}, "y": {"datum": 4.2, "type": "quantitative", "scale": {"domain": [0, 8], "range": [268, 13], "nice": false, "zero": false}, "axis": null}}},
    {"data": {"values": [{}]}, "mark": {"type": "point", "shape": "square", "filled": true, "color": "black", "opacity": 1, "size": 70},
      "encoding": {"x": {"datum": 1.114, "type": "quantitative", "scale": {"domain": [0, 1.5], "range": [429, 741], "nice": false, "zero": false}, "axis": null}, "y": {"datum": 4.2, "type": "quantitative", "scale": {"domain": [0, 8], "range": [268, 13], "nice": false, "zero": false}, "axis": null}}},
    {"data": {"values": [{}]}, "mark": {"type": "point", "shape": "circle", "filled": true, "color": "black", "opacity": 1, "size": 60},
      "encoding": {"x": {"datum": 0.402, "type": "quantitative", "scale": {"domain": [0, 1.5], "range": [429, 741], "nice": false, "zero": false}, "axis": null}, "y": {"datum": 3.26, "type": "quantitative", "scale": {"domain": [0, 8], "range": [268, 13], "nice": false, "zero": false}, "axis": null}}},
    {"data": {"values": [{}]}, "mark": {"type": "point", "shape": "triangle-down", "filled": true, "color": "black", "opacity": 1, "size": 50},
      "encoding": {"x": {"datum": 0.891, "type": "quantitative", "scale": {"domain": [0, 1.5], "range": [429, 741], "nice": false, "zero": false}, "axis": null}, "y": {"datum": 3.26, "type": "quantitative", "scale": {"domain": [0, 8], "range": [268, 13], "nice": false, "zero": false}, "axis": null}}},
    {"data": {"values": [{}]}, "mark": {"type": "point", "shape": "diamond", "filled": true, "color": "black", "opacity": 1, "size": 40},
      "encoding": {"x": {"datum": 1.418, "type": "quantitative", "scale": {"domain": [0, 1.5], "range": [429, 741], "nice": false, "zero": false}, "axis": null}, "y": {"datum": 3.26, "type": "quantitative", "scale": {"domain": [0, 8], "range": [268, 13], "nice": false, "zero": false}, "axis": null}}},
    {"data": {"values": [{}]}, "mark": {"type": "text", "text": "Hist-5", "align": "left", "baseline": "middle", "font": "Liberation Sans", "fontWeight": "bold", "fontSize": 25, "color": "black"},
      "encoding": {"x": {"datum": 0.661, "type": "quantitative", "scale": {"domain": [0, 1.5], "range": [429, 741], "nice": false, "zero": false}, "axis": null}, "y": {"datum": 4.2, "type": "quantitative", "scale": {"domain": [0, 8], "range": [268, 13], "nice": false, "zero": false}, "axis": null}}},
    {"data": {"values": [{}]}, "mark": {"type": "text", "text": "Hist 1-12", "align": "left", "baseline": "middle", "font": "Liberation Sans", "fontWeight": "bold", "fontSize": 25, "color": "black"},
      "encoding": {"x": {"datum": 1.198, "type": "quantitative", "scale": {"domain": [0, 1.5], "range": [429, 741], "nice": false, "zero": false}, "axis": null}, "y": {"datum": 4.2, "type": "quantitative", "scale": {"domain": [0, 8], "range": [268, 13], "nice": false, "zero": false}, "axis": null}}},
    {"data": {"values": [{}]}, "mark": {"type": "text", "text": "H3A", "align": "left", "baseline": "middle", "font": "Liberation Sans", "fontWeight": "bold", "fontSize": 25, "color": "black"},
      "encoding": {"x": {"datum": 0.494, "type": "quantitative", "scale": {"domain": [0, 1.5], "range": [429, 741], "nice": false, "zero": false}, "axis": null}, "y": {"datum": 3.26, "type": "quantitative", "scale": {"domain": [0, 8], "range": [268, 13], "nice": false, "zero": false}, "axis": null}}},
    {"data": {"values": [{}]}, "mark": {"type": "text", "text": "H7,8A", "align": "left", "baseline": "middle", "font": "Liberation Sans", "fontWeight": "bold", "fontSize": 25, "color": "black"},
      "encoding": {"x": {"datum": 0.977, "type": "quantitative", "scale": {"domain": [0, 1.5], "range": [429, 741], "nice": false, "zero": false}, "axis": null}, "y": {"datum": 3.26, "type": "quantitative", "scale": {"domain": [0, 8], "range": [268, 13], "nice": false, "zero": false}, "axis": null}}},
    {"data": {"values": [{}]}, "mark": {"type": "text", "text": "H7A", "align": "left", "baseline": "middle", "font": "Liberation Sans", "fontWeight": "bold", "fontSize": 25, "color": "black"},
      "encoding": {"x": {"datum": 1.505, "type": "quantitative", "scale": {"domain": [0, 1.5], "range": [429, 741], "nice": false, "zero": false}, "axis": null}, "y": {"datum": 3.26, "type": "quantitative", "scale": {"domain": [0, 8], "range": [268, 13], "nice": false, "zero": false}, "axis": null}}}
  ],
  "resolve": {"scale": {"x": "independent", "y": "independent", "color": "independent"}, "axis": {"x": "independent", "y": "independent"}}
}
